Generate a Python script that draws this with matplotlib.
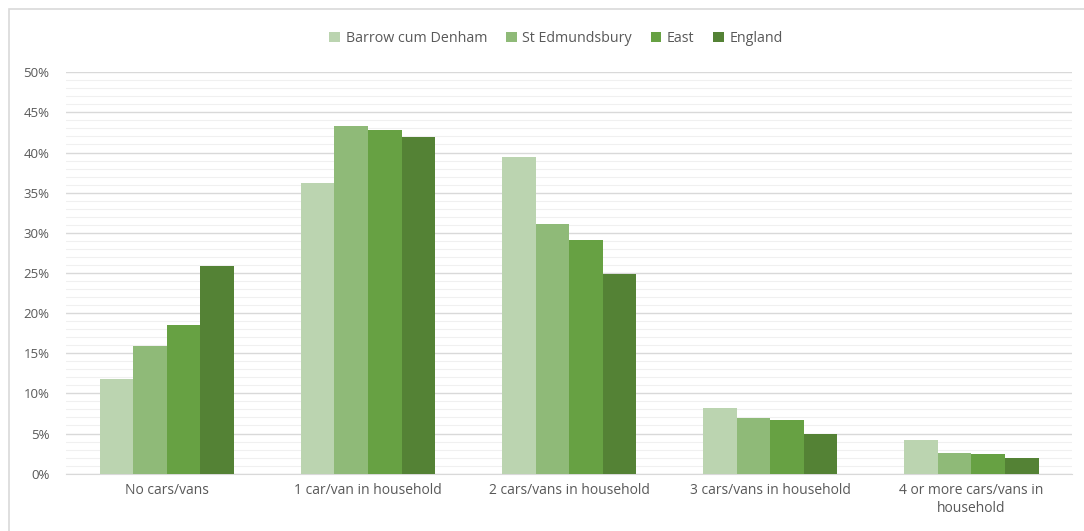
import matplotlib.pyplot as plt
from matplotlib.patches import Rectangle
from matplotlib.ticker import MultipleLocator, FuncFormatter
import numpy as np

categories = ['No cars/vans', '1 car/van in household', '2 cars/vans in household',
              '3 cars/vans in household', '4 or more cars/vans in\nhousehold']
series = ['Barrow cum Denham', 'St Edmundsbury', 'East', 'England']
barrow = [11.8, 36.2, 39.4, 8.2, 4.2]
st_edmundsbury = [15.9, 43.3, 31.1, 6.9, 2.6]
east = [18.5, 42.8, 29.1, 6.7, 2.5]
england = [25.9, 41.9, 24.9, 5.0, 1.9]
colors = ['#bbd4b0', '#8fba78', '#67a143', '#548235']

plt.rcParams['font.family'] = ['Open Sans', 'DejaVu Sans']
fig = plt.figure(figsize=(10.84, 5.31), dpi=100)
ax = fig.add_axes([0.061, 0.108, 0.928, 0.756])

# light frame round the chart, open on the right and bottom
fig.patches.append(Rectangle((9 / 1084, -0.1), 1.2, 1 - 9 / 531 + 0.1,
                             transform=fig.transFigure, fill=False,
                             edgecolor='#d9d9d9', linewidth=1.2))

x = np.arange(len(categories))
w = 0.167
for i, (vals, name) in enumerate(zip([barrow, st_edmundsbury, east, england], series)):
    ax.bar(x + (i - 1.5) * w, vals, w, color=colors[i], label=name, zorder=3)

ax.set_xlim(-0.5, len(categories) - 0.5)
ax.set_ylim(0, 50)
ax.yaxis.set_major_locator(MultipleLocator(5))
ax.yaxis.set_minor_locator(MultipleLocator(1))
ax.yaxis.set_major_formatter(FuncFormatter(lambda v, p: f'{v:.0f}%'))
ax.grid(axis='y', which='major', color='#d9d9d9', linewidth=1.0, zorder=0)
ax.grid(axis='y', which='minor', color='#f0f0f0', linewidth=0.8, zorder=0)
ax.set_xticks(x)
ax.set_xticklabels(categories, fontsize=10, color='#595959')
ax.tick_params(axis='y', which='both', length=0, labelsize=9.5, labelcolor='#595959', pad=12)
ax.tick_params(axis='x', length=0, pad=7)
for s in ['top', 'right', 'left']:
    ax.spines[s].set_visible(False)
ax.spines['bottom'].set_color('#d9d9d9')

ax.legend(loc='upper center', bbox_to_anchor=(0.487, 1.135), ncol=4, frameon=False,
          fontsize=10.3, labelcolor='#595959', handlelength=0.75, handleheight=0.75,
          handletextpad=0.4, columnspacing=1.3)

fig.savefig('out.png', dpi=100)
